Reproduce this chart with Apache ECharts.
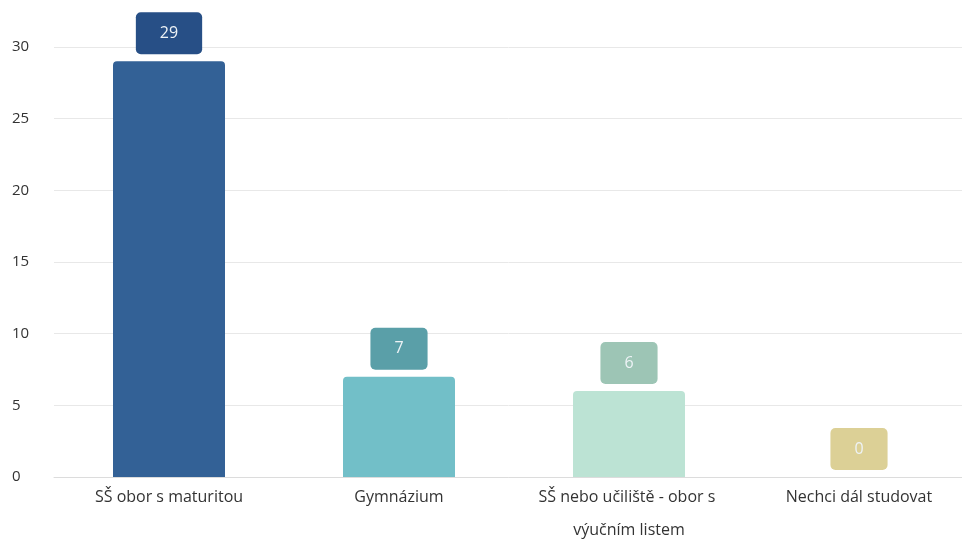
<!DOCTYPE html>
<html>
<head>
<meta charset="utf-8">
<script src="https://cdn.jsdelivr.net/npm/echarts@6/dist/echarts.min.js"></script>
<style>
  html, body { margin: 0; padding: 0; background: #fff; }
  #chart { width: 962px; height: 542px; }
</style>
</head>
<body>
<div id="chart"></div>
<script>
// data
var categories = ['SŠ obor s maturitou', 'Gymnázium', 'SŠ nebo učiliště - obor s výučním listem', 'Nechci dál studovat'];
var values = [29, 7, 6, 0];
var barColors = ['#336196', '#72bfc8', '#bce3d4', '#e6dca8'];
var labelColors = ['#274f86', '#5a9fa8', '#9dc5b5', '#dcd096'];

var chart = echarts.init(document.getElementById('chart'));

var seriesData = values.map(function (v, i) {
  return {
    value: v,
    itemStyle: { color: barColors[i] },
    label: { backgroundColor: labelColors[i] }
  };
});

var option = {
  animation: false,
  textStyle: { fontFamily: 'Open Sans' },
  grid: { left: 54, width: 920, top: 47, height: 430, containLabel: false, outerBoundsMode: 'none' },
  xAxis: {
    type: 'category',
    data: categories,
    axisTick: { show: false },
    axisLine: { lineStyle: { color: '#dcdcdc' } },
    axisLabel: {
      interval: 0,
      color: '#333',
      fontSize: 16,
      margin: 4,
      lineHeight: 33,
      width: 215,
      overflow: 'break'
    }
  },
  yAxis: {
    type: 'value',
    min: 0,
    max: 30,
    interval: 5,
    axisLabel: { color: '#333', fontSize: 15, align: 'left', margin: 42 },
    splitLine: { lineStyle: { color: '#e8e8e8' } }
  },
  series: [{
    type: 'bar',
    data: seriesData,
    barWidth: 112,
    itemStyle: { borderRadius: [4, 4, 0, 0] },
    label: {
      show: true,
      position: 'top',
      distance: 7,
      color: '#eef3f6',
      fontSize: 16,
      padding: [13, 24, 13, 24],
      borderRadius: 5
    }
  }]
};

chart.setOption(option);
</script>
</body>
</html>
